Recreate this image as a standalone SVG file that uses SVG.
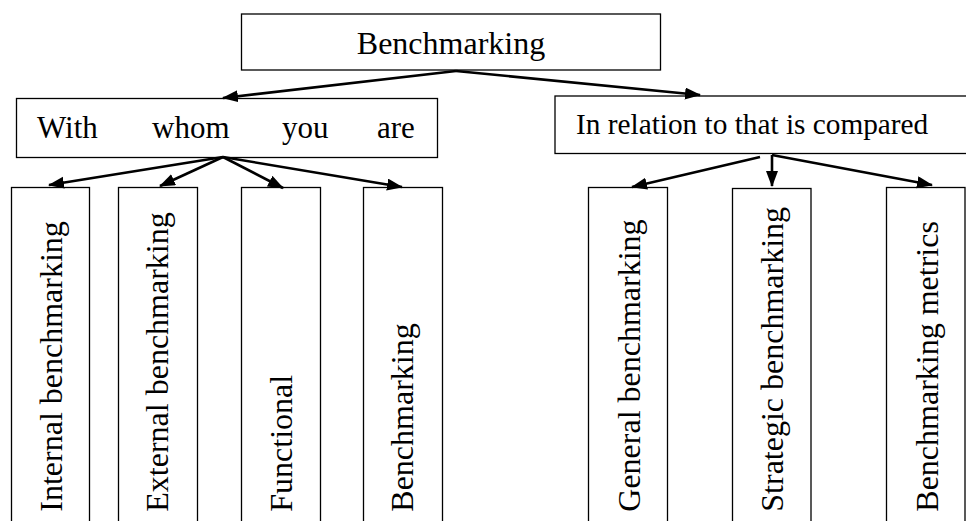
<svg xmlns="http://www.w3.org/2000/svg" width="966" height="521" viewBox="0 0 966 521">
<style>
.box{fill:#fff;stroke:#000;stroke-width:1.3}
.t{font-family:"Liberation Serif","Times New Roman",serif;fill:#000}
.c{stroke:#000;stroke-width:2.6;fill:none;marker-end:url(#ah)}
</style>
<defs>
<marker id="ah" markerUnits="userSpaceOnUse" markerWidth="18" markerHeight="14" refX="15" refY="6" orient="auto">
<path d="M0,0 L16,6 L0,12 z" fill="#000"/>
</marker>
</defs>
<rect width="966" height="521" fill="#fff"/>
<g id="n-root">
<rect class="box" x="241.5" y="14" width="419" height="56"/>
<text class="t" x="451" y="54" font-size="32" text-anchor="middle">Benchmarking</text>
</g>
<g id="n-whom">
<rect class="box" x="16.5" y="98.5" width="421" height="59"/>
<text class="t" font-size="31" y="138"><tspan x="37">With</tspan><tspan x="152">whom</tspan><tspan x="282">you</tspan><tspan x="377">are</tspan></text>
</g>
<g id="n-relation">
<rect class="box" x="555" y="96" width="420" height="57.5"/>
<text class="t" x="576" y="134" font-size="29.3">In relation to that is compared</text>
</g>
<g id="n-internal">
<rect class="box" x="11.5" y="187.5" width="78" height="345"/>
<text class="t" font-size="32" transform="translate(61.7,511.7) rotate(-90)">Internal benchmarking</text>
</g>
<g id="n-external">
<rect class="box" x="118.5" y="187.5" width="79" height="345"/>
<text class="t" font-size="32" transform="translate(168.3,511.7) rotate(-90)">External benchmarking</text>
</g>
<g id="n-functional">
<rect class="box" x="241.5" y="187.5" width="79" height="345"/>
<text class="t" font-size="32" transform="translate(291.7,511.7) rotate(-90)">Functional</text>
</g>
<g id="n-benchmarking">
<rect class="box" x="363.5" y="187.5" width="79" height="345"/>
<text class="t" font-size="32" transform="translate(413.3,511.7) rotate(-90)">Benchmarking</text>
</g>
<g id="n-general">
<rect class="box" x="588.5" y="187.5" width="79" height="345"/>
<text class="t" font-size="32" transform="translate(640,511.7) rotate(-90)">General benchmarking</text>
</g>
<g id="n-strategic">
<rect class="box" x="732.5" y="188.5" width="78.5" height="345"/>
<text class="t" font-size="32" transform="translate(783.3,511.7) rotate(-90)">Strategic benchmarking</text>
</g>
<g id="n-metrics">
<rect class="box" x="886.5" y="187.5" width="78.5" height="345"/>
<text class="t" font-size="32" transform="translate(938.3,511.7) rotate(-90)">Benchmarking metrics</text>
</g>
<g id="connectors">
<line class="c" x1="456" y1="71" x2="223" y2="98"/>
<line class="c" x1="456" y1="71" x2="700" y2="95"/>
<line class="c" x1="223" y1="157" x2="49" y2="185"/>
<line class="c" x1="223" y1="157" x2="160" y2="186"/>
<line class="c" x1="223" y1="157" x2="283" y2="188"/>
<line class="c" x1="223" y1="157" x2="402" y2="187"/>
<line class="c" x1="760" y1="157" x2="632" y2="187"/>
<line class="c" x1="772" y1="155" x2="772" y2="186"/>
<line class="c" x1="772" y1="155" x2="932" y2="185"/>
</g>
</svg>
